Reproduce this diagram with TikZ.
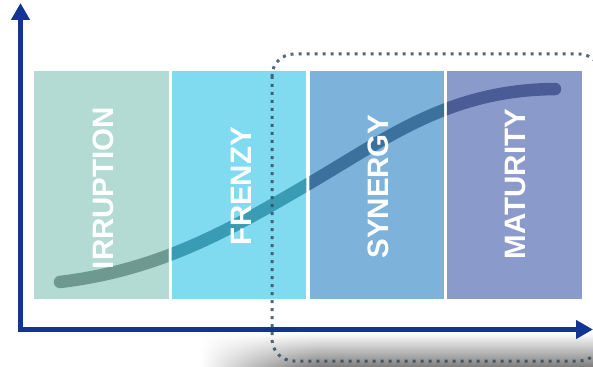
\documentclass[tikz,border=0pt]{standalone}
\usepackage{fontspec}
\setmainfont{Liberation Sans}
\usetikzlibrary{arrows.meta}
\definecolor{axisblue}{RGB}{20,52,148}
\definecolor{boxA}{RGB}{179,218,211}
\definecolor{boxB}{RGB}{128,219,240}
\definecolor{boxC}{RGB}{125,179,218}
\definecolor{boxD}{RGB}{138,155,203}
\definecolor{curveA}{RGB}{110,153,144}
\definecolor{curveB}{RGB}{58,155,180}
\definecolor{curveC}{RGB}{59,113,156}
\definecolor{curveD}{RGB}{74,91,150}
\definecolor{frameC}{RGB}{50,80,100}
\tikzset{
  phasebox/.style={rectangle, draw=none, inner sep=0pt, minimum width=134.5pt, minimum height=228pt},
  phaselabel/.style={text=white, rotate=90, inner sep=0pt, font=\fontsize{29.5}{31}\selectfont\bfseries},
  axisline/.style={draw=axisblue, line width=5pt, -{Triangle[length=17pt,width=18pt]}},
  curveline/.style={line width=12.5pt, line cap=round},
  dotframe/.style={draw=frameC, line width=3pt, dash pattern=on 3pt off 5pt, rounded corners=22pt, opacity=0.85},
  shadowfill/.style={top color=white, bottom color=black!50}
}
\newcommand{\scurve}{(60,282) .. controls (160,270) and (230,230) .. (310,183) .. controls (390,136) and (450,90) .. (555,89)}
\begin{document}
\begin{tikzpicture}[x=1pt,y=-1pt]
\useasboundingbox (0,0) rectangle (593,366);
% shadow below the axis, fading out to the left
\begin{scope}
  \clip (0,0) rectangle (593,366);
  \shade[shadowfill] (202,333) rectangle (593,366);
  \fill[white] (195,331) rectangle (202,372);
  \foreach \i in {1,...,59}{
    \pgfmathsetmacro{\xa}{200+2*\i}
    \pgfmathsetmacro{\op}{(1-\i/60)^1.2}
    \fill[white, opacity=\op] (\xa,331) rectangle ({\xa+2},372);
  }
\end{scope}
% boxes
\node[phasebox, fill=boxA] (b1) at (101.25,185) {};
\node[phasebox, fill=boxB] (b2) at (239,185) {};
\node[phasebox, fill=boxC] (b3) at (376.75,185) {};
\node[phasebox, fill=boxD] (b4) at (514.25,185) {};
% curve, coloured per box
\begin{scope}
  \clip (b1.south west) rectangle (b1.north east);
  \draw[curveline, draw=curveA] \scurve;
\end{scope}
\begin{scope}
  \clip (b2.south west) rectangle (b2.north east);
  \draw[curveline, draw=curveB] \scurve;
\end{scope}
\begin{scope}
  \clip (b3.south west) rectangle (b3.north east);
  \draw[curveline, draw=curveC] \scurve;
\end{scope}
\begin{scope}
  \clip (b4.south west) rectangle (b4.north east);
  \draw[curveline, draw=curveD] \scurve;
\end{scope}
% labels
\node[phaselabel] (l1) at (103,188) {IRRUPTION};
\node[phaselabel] (l2) at (241,186) {FRENZY};
\node[phaselabel] (l3) at (378,186.5) {SYNERGY};
\node[phaselabel] (l4) at (515.5,184) {MATURITY};
% axes
\coordinate (yb) at (20.5,331.5);
\coordinate (yt) at (20.5,3);
\coordinate (xl) at (18,329.5);
\coordinate (xr) at (593,329.5);
\draw[axisline] (yb) -- (yt);
\draw[axisline] (xl) -- (xr);
% dotted frame
\draw[dotframe] (272,54) rectangle (601,361);
\end{tikzpicture}
\end{document}
